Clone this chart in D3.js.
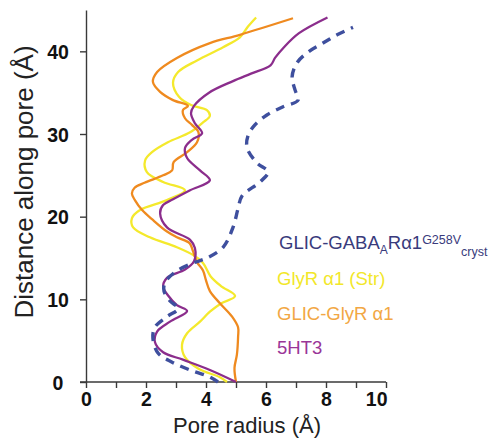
<!DOCTYPE html>
<html>
<head>
<meta charset="utf-8">
<script src="https://cdn.jsdelivr.net/npm/d3@7"></script>
<style>
  body { margin: 0; background: #fff; }
  svg { font-family: Arial, "Liberation Sans", sans-serif; }
  .axis path, .axis line { stroke: #3a3a3a; stroke-width: 1.4; }
  .axis text { font-weight: bold; font-size: 19.5px; fill: #111; }
</style>
</head>
<body>
<div class="chart"></div>
<script>
var svgWidth = 492;
var svgHeight = 441;

// pore profiles, [radius (Å), distance along pore (Å)]
var glicGabaA = [[4.4, 0], [4.13, 0.6], [3.47, 1.45], [2.87, 2.4], [2.4, 3.5], [2.23, 5.3], [2.3, 6.65],
  [2.7, 7.9], [3.07, 8.9], [2.8, 9.8], [2.6, 11], [2.63, 12], [2.97, 13.3], [3.57, 14.4], [4.03, 15.0],
  [4.57, 16.3], [4.9, 18.7], [5.07, 21.0], [5.2, 22.5], [5.8, 24.2], [6.07, 25.4], [5.7, 26.5],
  [5.37, 28.3], [5.4, 29.8], [5.63, 31.1], [6.03, 32.3], [6.57, 33.3], [7.07, 34.1], [6.97, 35.3],
  [6.87, 36.9], [7.03, 38.6], [7.4, 39.9], [7.9, 41.0], [8.37, 42.0], [8.9, 42.9]];

var glyRStr = [[4.7, 0], [4.45, 0.6], [3.75, 1.6], [3.3, 3.0], [3.2, 4.5], [3.37, 5.9], [3.8, 7.3],
  [4.13, 8.5], [4.5, 9.5], [4.97, 10.4], [4.5, 11.6], [4.15, 12.8], [3.9, 14.4], [3.6, 15.3],
  [3.03, 16.3], [2.13, 17.5], [1.57, 18.7], [1.53, 19.8], [1.8, 20.8], [2.7, 22.0], [3.3, 23.2],
  [2.57, 24.2], [2.03, 25.4], [1.97, 26.8], [2.2, 27.8], [2.73, 29.0], [3.47, 30.2], [3.9, 31.4],
  [4.13, 32.2], [4.03, 32.9], [3.5, 33.5], [3.1, 34.5], [2.9, 36.2], [3.07, 37.5], [3.7, 38.9],
  [4.57, 40.5], [5.13, 41.7], [5.4, 43.0], [5.67, 44.1]];

var glicGlyR = [[5.0, 0], [4.95, 1.7], [5.03, 3.3], [5.07, 5.5], [5.07, 6.6], [4.87, 7.9], [4.47, 9.5],
  [4.13, 11.0], [4.0, 12.3], [3.9, 13.5], [3.7, 14.5], [3.55, 16.0], [3.45, 16.8], [3.03, 17.5],
  [2.7, 18.2], [2.23, 19.6], [1.87, 20.8], [1.63, 22.0], [1.53, 22.8], [1.62, 23.5], [1.95, 24.1],
  [2.57, 25.0], [2.87, 25.6], [2.92, 26.6], [3.37, 27.8], [3.7, 29.0], [3.75, 30.2], [3.53, 31.1],
  [3.3, 31.9], [3.23, 32.9], [3.4, 33.4], [2.9, 34.1], [2.47, 35.1], [2.23, 36.3], [2.37, 37.5],
  [3.03, 39.2], [4.13, 41.0], [5.13, 42.0], [6.9, 44.0]];

var ht3 = [[5.0, 0], [4.13, 1.45], [3.23, 2.7], [2.57, 3.6], [2.3, 4.8], [2.37, 6.1], [2.8, 7.3],
  [3.37, 8.6], [3.03, 9.3], [2.73, 10.5], [2.57, 11.5], [2.7, 12.6], [3.3, 13.6], [3.6, 14.6],
  [3.63, 16.2], [3.47, 17.2], [2.7, 18.7], [2.47, 20.4], [2.57, 21.4], [2.9, 22.1], [3.47, 23.2],
  [4.13, 24.4], [3.8, 25.6], [3.37, 27.1], [3.3, 28.3], [3.53, 29.3], [3.87, 30.1], [3.63, 31.3],
  [3.5, 32.5], [3.6, 33.4], [4.1, 35.0], [4.9, 36.4], [5.5, 37.3], [6.15, 38.3], [6.3, 39.2],
  [6.6, 40.5], [7.1, 42.2], [8.05, 44.1]];

var xTicks = [0, 1, 2, 3, 4, 5, 6, 7, 8, 9, 10];
var yTicks = [0, 10, 20, 30, 40];

var series = [
  { name: "GlyR α1 (Str)", values: glyRStr, color: "#f4e92c", text: "#f2e72a", dash: null },
  { name: "GLIC-GlyR α1", values: glicGlyR, color: "#ef8a1f", text: "#f2a744", dash: null },
  { name: "5HT3", values: ht3, color: "#8b2d8c", text: "#9a3597", dash: null },
  { name: "GLIC-GABA", values: glicGabaA, color: "#3e4f9e", text: "#393b7c", dash: "9,7" }
];

var svg = d3.select(".chart")
  .append("svg")
  .attr("width", svgWidth)
  .attr("height", svgHeight);

var x = d3.scaleLinear().domain([0, 10]).range([86, 386]);
var y = d3.scaleLinear().domain([0, 45]).range([382, 10]);

// x axis
var xAxis = svg.append("g")
  .attr("class", "axis")
  .attr("transform", `translate(0, ${y(0)})`)
  .call(d3.axisBottom(x).tickValues(xTicks).tickSize(6).tickSizeOuter(0)
    .tickFormat(d => d % 2 === 0 ? d : ""));
xAxis.select(".domain").attr("d", `M${x(0) - 6},0H${x(10)}`);
xAxis.selectAll("text").attr("y", 10).attr("dy", "0.72em");
xAxis.selectAll(".tick").filter(d => d === 10).select("text")
  .attr("text-anchor", "end").attr("x", 1);

// y axis
var yAxis = svg.append("g")
  .attr("class", "axis")
  .attr("transform", `translate(${x(0)}, 0)`)
  .call(d3.axisLeft(y).tickValues(yTicks).tickSize(6).tickSizeOuter(0));
yAxis.selectAll("text").attr("x", -28).attr("text-anchor", "middle").attr("dy", "0.36em");

// curves
var line = d3.line()
  .x(d => x(d[0]))
  .y(d => y(d[1]))
  .curve(d3.curveCatmullRom.alpha(0.5));

svg.selectAll(".curve")
  .data(series)
  .enter()
  .append("path")
  .attr("class", "curve")
  .attr("d", d => line(d.values))
  .attr("fill", "none")
  .attr("stroke", d => d.color)
  .attr("stroke-width", d => d.dash ? 3.4 : 2.3)
  .attr("stroke-dasharray", d => d.dash)
  .attr("stroke-linejoin", "round");

// legend
var legend = svg.append("g").attr("font-size", "18.5px");

var gaba = legend.append("text")
  .attr("x", 279)
  .attr("y", 249)
  .attr("fill", series[3].text);
gaba.append("tspan").text("GLIC-GABA");
gaba.append("tspan").attr("font-size", "12px").attr("dy", 5).text("A");
gaba.append("tspan").attr("dy", -5).text("Rα1");
gaba.append("tspan").attr("font-size", "12.5px").attr("dy", -5).text("G258V");
gaba.append("tspan").attr("font-size", "12.5px").attr("dy", 12).text("cryst");

legend.append("text").attr("x", 277).attr("y", 285).attr("fill", series[0].text).text(series[0].name);
legend.append("text").attr("x", 277).attr("y", 320).attr("fill", series[1].text).text(series[1].name);
legend.append("text").attr("x", 277).attr("y", 354).attr("fill", series[2].text).text(series[2].name);

// axis titles
svg.append("text")
  .attr("x", 247)
  .attr("y", 433)
  .attr("text-anchor", "middle")
  .attr("font-size", "22px")
  .attr("fill", "#222")
  .text("Pore radius (Å)");

svg.append("text")
  .attr("transform", "rotate(-90)")
  .attr("x", -182)
  .attr("y", 33)
  .attr("text-anchor", "middle")
  .attr("font-size", "26px")
  .attr("fill", "#222")
  .text("Distance along pore (Å)");
</script>
</body>
</html>
